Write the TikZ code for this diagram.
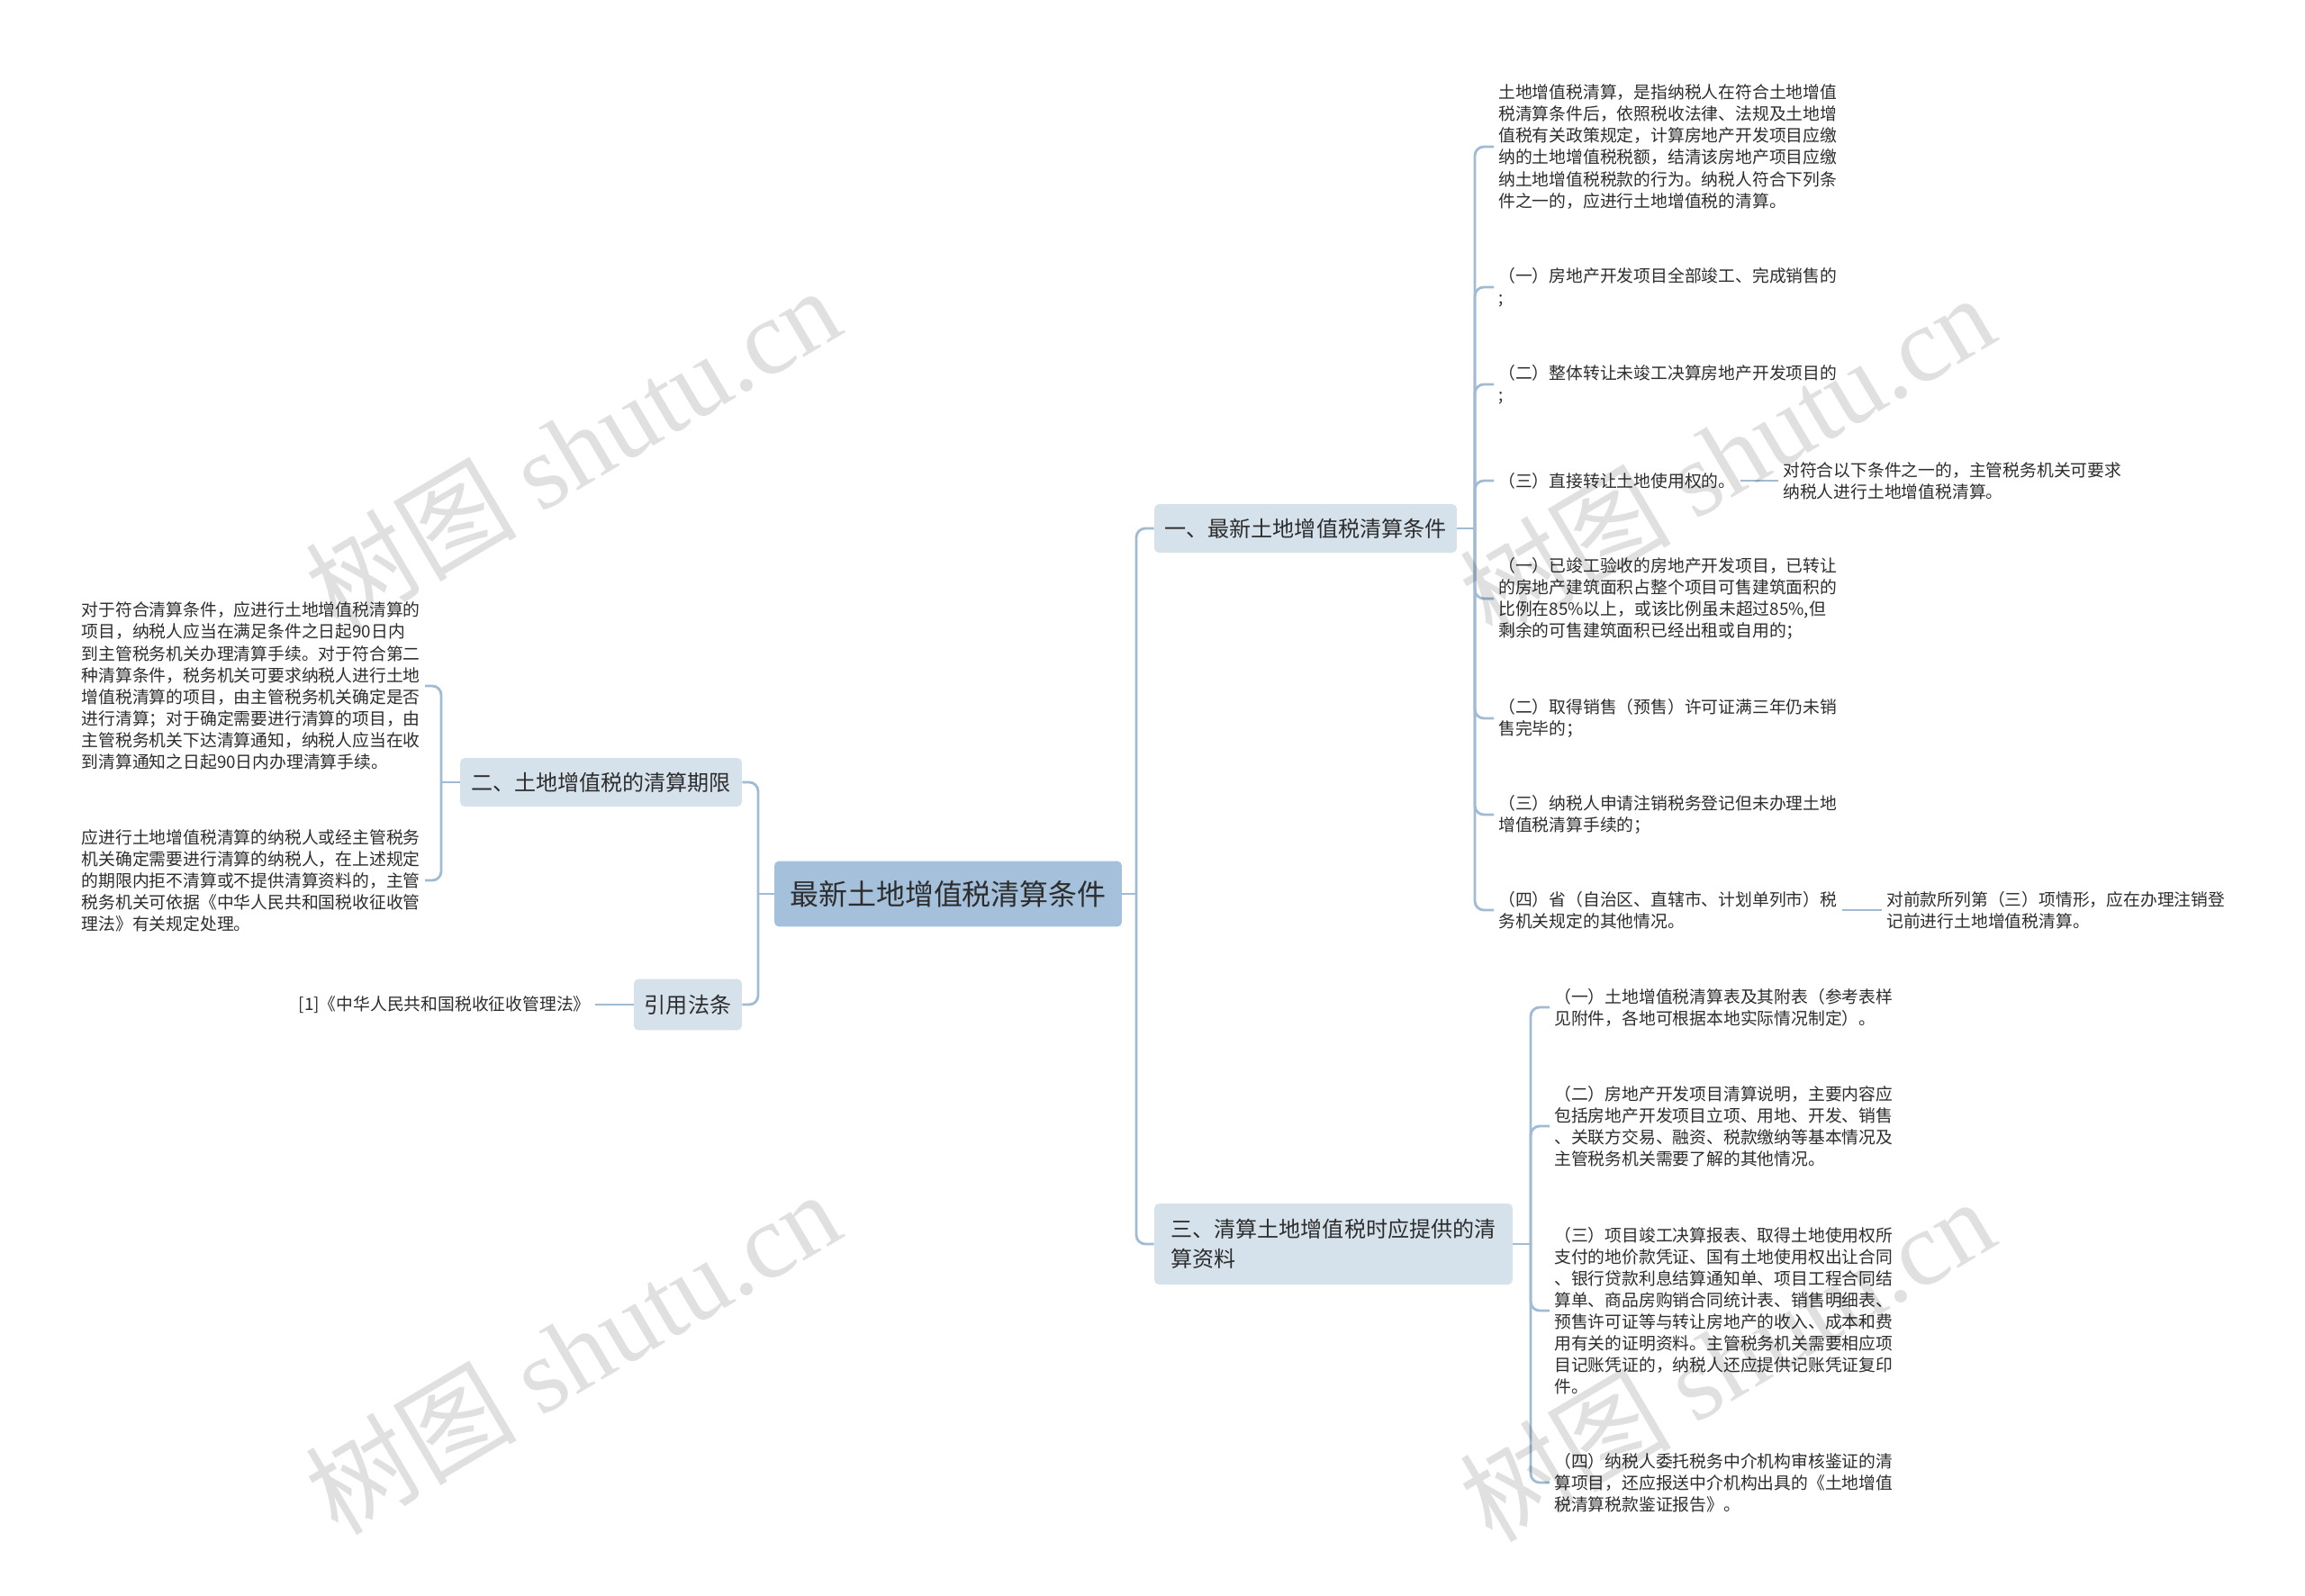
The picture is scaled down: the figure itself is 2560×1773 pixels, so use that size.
\documentclass[tikz,border=0pt]{standalone}
\usepackage{fontspec}
\setmainfont{Noto Sans CJK SC}
\newfontfamily\serifagua{Liberation Serif}
\usepackage{xcolor}
\usepackage{tikz}
\usetikzlibrary{positioning,calc}

\definecolor{azulraiz}{RGB}{164,192,218}
\definecolor{azulrama}{RGB}{214,226,235}
\definecolor{azullinea}{RGB}{160,187,211}
\definecolor{texto}{RGB}{45,45,45}

\begin{document}
\begin{tikzpicture}[x=0.02cm, y=-0.02cm,
  raiz/.style={fill=azulraiz, rounded corners=3pt, minimum width=7.72cm,
               minimum height=1.46cm, inner sep=0, text=texto,
               font=\fontsize{18.2}{22}\selectfont},
  rama/.style={fill=azulrama, rounded corners=3pt, minimum height=1.08cm,
               inner sep=0, align=left, text=texto,
               font=\fontsize{13.7}{18.5}\selectfont},
  hoja/.style={align=left, inner xsep=0.1cm, inner ysep=0, text=texto,
               font=\fontsize{10.7}{13.7}\selectfont},
  linea/.style={draw=azullinea, line width=1.6pt, rounded corners=0.2cm},
  agua/.style={rotate=30.6, anchor=base, text=black, text opacity=0.12,
               font=\fontsize{67}{67}\selectfont},
]
  \fill[white] (0,0) rectangle (2560,1773);
  \useasboundingbox (0,0) rectangle (2560,1773);

  % centro y ramas
  \node[raiz] (raiz) at (1053,993) {最新土地增值税清算条件};
  \node[rama, minimum width=6.72cm] (cond) at (1450,587)
    {一、最新土地增值税清算条件};
  \node[rama, minimum width=7.96cm, minimum height=1.8cm] (datos) at (1481,1382)
    {三、清算土地增值税时应提供的清\\算资料};
  \node[rama, minimum width=6.26cm] (plazo) at (667.5,869)
    {二、土地增值税的清算期限};
  \node[rama, minimum width=2.4cm, minimum height=1.14cm] (ley) at (764,1116)
    {引用法条};

  \coordinate (tr) at (1262,993);
  \coordinate (tl) at (842,993);
  \coordinate (t1) at (1638,587);
  \coordinate (t2) at (490,869);
  \coordinate (t3) at (1700,1382);

  % hojas de la rama uno
  \node[hoja, anchor=west] (c1) at (1659,163)
    {土地增值税清算，是指纳税人在符合土地增值\\税清算条件后，依照税收法律、法规及土地增\\值税有关政策规定，计算房地产开发项目应缴\\纳的土地增值税税额，结清该房地产项目应缴\\纳土地增值税税款的行为。纳税人符合下列条\\件之一的，应进行土地增值税的清算。};
  \node[hoja, anchor=west] (c2) at (1659,319)
    {（一）房地产开发项目全部竣工、完成销售的\\;};
  \node[hoja, anchor=west] (c3) at (1659,427)
    {（二）整体转让未竣工决算房地产开发项目的\\;};
  \node[hoja, anchor=west] (c4) at (1659,534)
    {（三）直接转让土地使用权的。};
  \node[hoja, anchor=west] (c4x) at (1975,534)
    {对符合以下条件之一的，主管税务机关可要求\\纳税人进行土地增值税清算。};
  \node[hoja, anchor=west] (c5) at (1659,665)
    {（一）已竣工验收的房地产开发项目，已转让\\的房地产建筑面积占整个项目可售建筑面积的\\比例在85\%以上，或该比例虽未超过85\%,但\\剩余的可售建筑面积已经出租或自用的；};
  \node[hoja, anchor=west] (c6) at (1659,798)
    {（二）取得销售（预售）许可证满三年仍未销\\售完毕的；};
  \node[hoja, anchor=west] (c7) at (1659,905)
    {（三）纳税人申请注销税务登记但未办理土地\\增值税清算手续的；};
  \node[hoja, anchor=west] (c8) at (1659,1011)
    {（四）省（自治区、直辖市、计划单列市）税\\务机关规定的其他情况。};
  \node[hoja, anchor=west] (c8x) at (2090,1011)
    {对前款所列第（三）项情形，应在办理注销登\\记前进行土地增值税清算。};

  % hojas de la rama tres
  \node[hoja, anchor=west] (d1) at (1721,1119)
    {（一）土地增值税清算表及其附表（参考表样\\见附件，各地可根据本地实际情况制定）。};
  \node[hoja, anchor=west] (d2) at (1721,1251)
    {（二）房地产开发项目清算说明，主要内容应\\包括房地产开发项目立项、用地、开发、销售\\、关联方交易、融资、税款缴纳等基本情况及\\主管税务机关需要了解的其他情况。};
  \node[hoja, anchor=west] (d3) at (1721,1456)
    {（三）项目竣工决算报表、取得土地使用权所\\支付的地价款凭证、国有土地使用权出让合同\\、银行贷款利息结算通知单、项目工程合同结\\算单、商品房购销合同统计表、销售明细表、\\预售许可证等与转让房地产的收入、成本和费\\用有关的证明资料。主管税务机关需要相应项\\目记账凭证的，纳税人还应提供记账凭证复印\\件。};
  \node[hoja, anchor=west] (d4) at (1721,1647)
    {（四）纳税人委托税务中介机构审核鉴证的清\\算项目，还应报送中介机构出具的《土地增值\\税清算税款鉴证报告》。};

  % lado izquierdo
  \node[hoja, anchor=east] (p1) at (472,762)
    {对于符合清算条件，应进行土地增值税清算的\\项目，纳税人应当在满足条件之日起90日内\\到主管税务机关办理清算手续。对于符合第二\\种清算条件，税务机关可要求纳税人进行土地\\增值税清算的项目，由主管税务机关确定是否\\进行清算；对于确定需要进行清算的项目，由\\主管税务机关下达清算通知，纳税人应当在收\\到清算通知之日起90日内办理清算手续。};
  \node[hoja, anchor=east] (p2) at (472,978)
    {应进行土地增值税清算的纳税人或经主管税务\\机关确定需要进行清算的纳税人，在上述规定\\的期限内拒不清算或不提供清算资料的，主管\\税务机关可依据《中华人民共和国税收征收管\\理法》有关规定处理。};
  \node[hoja, anchor=east] (art) at (661,1116)
    {[1]《中华人民共和国税收征收管理法》};

  % conectores
  \draw[linea] (raiz.east) -- (tr);
  \draw[linea] (tr) |- (cond.west);
  \draw[linea] (tr) |- (datos.west);
  \draw[linea] (raiz.west) -- (tl);
  \draw[linea] (tl) |- (plazo.east);
  \draw[linea] (tl) |- (ley.east);

  \draw[linea] (cond.east) -- (t1);
  \foreach \i in {1,...,8}
    \draw[linea] (t1) |- (c\i.west);
  \draw[linea] (c4.east) -- (c4x.west);
  \draw[linea] (c8.east) -- (c8x.west);

  \draw[linea] (datos.east) -- (t3);
  \foreach \i in {1,...,4}
    \draw[linea] (t3) |- (d\i.west);

  \draw[linea] (plazo.west) -- (t2);
  \draw[linea] (t2) |- (p1.east);
  \draw[linea] (t2) |- (p2.east);
  \draw[linea] (ley.west) -- (art.east);

  % marcas de agua
  \foreach \p [count=\k] in {(658,536),(1940,544),(658,1540),(1940,1548)}
    \node[agua] (agua\k) at \p {树图 {\serifagua shutu.cn}};
\end{tikzpicture}
\end{document}
